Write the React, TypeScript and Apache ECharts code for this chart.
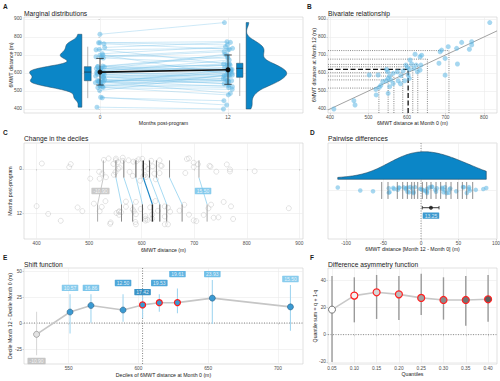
import React, { useEffect, useRef } from "react";
import * as echarts from "echarts";

const FF = "'Liberation Sans', Arial, Helvetica, sans-serif";

// Paired 6MWT distances (m): Month 0 and Month 12
const month0 = [410, 462, 465, 502, 519, 520, 525, 528, 532, 537, 546, 547, 550, 551, 551, 555, 555, 558, 564, 564, 575, 577, 583, 584, 590, 594, 597, 601, 603, 606, 606, 608, 612, 618, 621, 624, 627, 634, 634, 636, 638, 683, 686, 690, 699, 699, 707, 729, 731, 742, 762, 768, 768, 815];
const month12 = [400, 446, 422, 589, 509, 478, 589, 520, 531, 552, 557, 620, 607, 570, 487, 583, 524, 561, 598, 541, 607, 557, 540, 585, 611, 557, 644, 631, 589, 620, 570, 672, 650, 626, 704, 644, 607, 616, 690, 644, 699, 654, 718, 727, 681, 588, 746, 737, 650, 770, 732, 774, 756, 880];

const monthTicks = [0, 12];
const distTicks = [400, 500, 600, 700, 800, 900];
const bivXTicks = [400, 500, 600, 700, 800];

const meanDist = [605, 618];
const sdLow = [533, 537];
const sdHigh = [681, 700];
const box0 = [460, 557, 605, 635, 746];
const box12 = [472, 576, 626, 654, 765];

const deciles0 = [527, 551, 566, 589, 603, 615, 628, 653, 709];
const decileDiff = [-10.9, 10.57, 16.86, 12.5, 17.42, 19.53, 19.61, 23.93, 15.5];
const shiftLower = [-31, -10, 0.3, 1.3, 4.5, 10.9, 9.3, -1, -7.4];
const shiftUpper = [10.9, 27.6, 27.6, 27.6, 25.3, 27.6, 33.3, 41.3, 36.5];
const shiftLabelY = [-36.5, 33.7, 33.7, 38.5, 29.8, 38.5, 47.1, 47.1, 42.3];
const shiftTicksX = [550, 600, 650, 700];
const shiftTicksY = [-25, 0, 25, 50];

const diffQuantiles = [-52.4, -44, -31.6, -24.4, -18.2, -12.4, -8.9, -4.4, 1.8, 7.6, 13.3, 20, 26.2, 33.3, 40, 48.9, 55.1, 60.9, 68.9];
const diffMean = 13.25;
const diffCI = [1.7, 24];
const diffTicks = [-100, -50, 0, 50, 100];

const quantiles = [0.05, 0.1, 0.15, 0.2, 0.25, 0.3, 0.35, 0.4];
const asymValues = [18.3, 28.6, 31.0, 29.5, 26.9, 25.4, 25.4, 25.9];
const asymLower = [-20, 9, 11.5, 10.8, 14.4, 11, 6.6, 9.5];
const asymUpper = [43, 42, 43.7, 43, 44.5, 42, 43, 43.7];
const asymTicksY = [-20, 0, 20, 40];

const BLUE = "#0b86c7";
const PT = "#5cb6e4";

const jit = (i: number, k: number) => {
  const s = Math.sin(i * 12.9898 + k * 78.233) * 43758.5453;
  return s - Math.floor(s) - 0.5;
};

function kde(values: number[], bw: number, lo: number, hi: number, n = 120) {
  const out: number[][] = [];
  for (let k = 0; k <= n; k++) {
    const x = lo + ((hi - lo) * k) / n;
    let s = 0;
    for (const v of values) {
      const z = (x - v) / bw;
      s += Math.exp(-0.5 * z * z);
    }
    out.push([x, s]);
  }
  const mx = Math.max(...out.map((o) => o[1]));
  return out.map(([x, s]) => [x, s / mx]);
}

type Seg = { p: number[][]; c: string; w: number; d?: number[] };
function segSeries(gi: number, segs: Seg[], z = 3) {
  return {
    type: "custom",
    xAxisIndex: gi,
    yAxisIndex: gi,
    z,
    silent: true,
    clip: true,
    data: segs.map((s, i) => [s.p[0][0], s.p[0][1], i]),
    encode: { x: 0, y: 1 },
    renderItem: (_p: any, api: any) => {
      const s = segs[api.value(2)];
      return {
        type: "polyline",
        shape: { points: s.p.map((q) => api.coord(q)) },
        style: { stroke: s.c, lineWidth: s.w, lineDash: s.d || null, fill: null },
      };
    },
  };
}

type Poly = { pts: number[][]; fill: string; stroke: string; w: number };
function polySeries(gi: number, polys: Poly[], z = 3) {
  return {
    type: "custom",
    xAxisIndex: gi,
    yAxisIndex: gi,
    z,
    silent: true,
    clip: true,
    data: polys.map((s, i) => [s.pts[0][0], s.pts[0][1], i]),
    encode: { x: 0, y: 1 },
    renderItem: (_p: any, api: any) => {
      const s = polys[api.value(2)];
      return {
        type: "polygon",
        shape: { points: s.pts.map((q) => api.coord(q)) },
        style: { fill: s.fill, stroke: s.stroke, lineWidth: s.w },
      };
    },
  };
}

function labelSeries(gi: number, items: { x: number; y: number; text: string; bg: string }[], z = 20) {
  return {
    type: "scatter",
    xAxisIndex: gi,
    yAxisIndex: gi,
    z,
    silent: true,
    symbolSize: 0.1,
    itemStyle: { color: "rgba(0,0,0,0)" },
    data: items.map((it) => ({ value: [it.x, it.y], name: it.text, label: { backgroundColor: it.bg } })),
    label: {
      show: true,
      position: "inside",
      formatter: (p: any) => p.name,
      color: "#ffffff",
      fontSize: 5,
      fontFamily: FF,
      lineHeight: 5.5,
      padding: [0.5, 2, 0.3, 2],
      borderRadius: 0.6,
    },
  };
}

function valAxis(gi: number, min: number, max: number, ticks: number[], o: any = {}) {
  return {
    type: "value",
    gridIndex: gi,
    min,
    max,
    inverse: !!o.inverse,
    name: o.name || "",
    nameLocation: "middle",
    nameGap: o.nameGap ?? 8,
    nameMoveOverlap: false,
    nameTextStyle: { fontSize: 5.2, color: "#1a1a1a", fontFamily: FF, fontWeight: "normal" },
    axisLine: { show: false },
    axisTick: { show: !o.noLabels, length: 1.6, lineStyle: { color: "#b3b3b3", width: 0.5 }, customValues: ticks },
    axisLabel: {
      show: !o.noLabels,
      customValues: ticks,
      fontSize: 4.8,
      color: "#4d4d4d",
      margin: o.margin ?? 2,
      fontFamily: FF,
      ...(o.fmt ? { formatter: o.fmt } : {}),
    },
    splitLine: { show: true, lineStyle: { color: "#ebebeb", width: 0.6 } },
  };
}

function buildOption() {
  const diffs = month0.map((v, i) => month12[i] - v);
  const deciles12 = deciles0.map((v, i) => v + decileDiff[i]);

  // ---------- Panel A ----------
  const x0 = month0.map((_, i) => jit(i, 1) * 0.9);
  const x12 = month12.map((_, i) => 12 + jit(i, 2) * 0.9);
  const pairSegs: Seg[] = month0.map((v, i) => ({
    p: [[x0[i], v], [x12[i], month12[i]]],
    c: "rgba(100,185,230,0.45)",
    w: 0.7,
  }));
  const lo0 = Math.min(...month0), hi0 = Math.max(...month0);
  const lo12 = Math.min(...month12), hi12 = Math.max(...month12);
  const k0 = kde(month0, 20, lo0, hi0);
  const k12 = kde(month12, 23, lo12, hi12);
  const base0 = -1.7, w0 = 4.9, base12 = 13.7, w12 = 3.8;
  const violins: Poly[] = [
    { pts: [[base0, lo0], ...k0.map(([y, d]) => [base0 - d * w0, y]), [base0, hi0]], fill: BLUE, stroke: "#22465e", w: 0.5 },
    { pts: [[base12, lo12], ...k12.map(([y, d]) => [base12 + d * w12, y]), [base12, hi12]], fill: BLUE, stroke: "#22465e", w: 0.5 },
  ];
  const boxDefs = [
    { c: -1.15, hw: 0.32, b: box0 },
    { c: 13.1, hw: 0.3, b: box12 },
  ];
  const boxPolys: Poly[] = boxDefs.map(({ c, hw, b }) => ({
    pts: [[c - hw, b[1]], [c + hw, b[1]], [c + hw, b[3]], [c - hw, b[3]]],
    fill: BLUE,
    stroke: "#2b4a5e",
    w: 0.5,
  }));
  const boxSegs: Seg[] = [];
  boxDefs.forEach(({ c, hw, b }) => {
    boxSegs.push({ p: [[c, b[0]], [c, b[1]]], c: "#9a9a9a", w: 0.7 });
    boxSegs.push({ p: [[c, b[3]], [c, b[4]]], c: "#9a9a9a", w: 0.7 });
    boxSegs.push({ p: [[c - hw, b[2]], [c + hw, b[2]]], c: "#1f3a4d", w: 0.8 });
  });
  const meanSegs: Seg[] = [];
  monthTicks.forEach((m, i) => {
    meanSegs.push({ p: [[m, sdLow[i]], [m, sdHigh[i]]], c: "#222", w: 0.8 });
    meanSegs.push({ p: [[m - 0.35, sdLow[i]], [m + 0.35, sdLow[i]]], c: "#222", w: 0.8 });
    meanSegs.push({ p: [[m - 0.35, sdHigh[i]], [m + 0.35, sdHigh[i]]], c: "#222", w: 0.8 });
  });

  // ---------- Panel B ----------
  const bXmin = 394.8, bXmax = 833.8, yMin = 377.7, yMax = 911;
  const bSegs: Seg[] = [];
  deciles0.forEach((d, i) => {
    const med = i === 4;
    const st = med ? { c: "#111", w: 1.3, d: [5, 2.5] } : { c: "#555", w: 0.7, d: [1, 1.2] };
    bSegs.push({ p: [[d, yMin], [d, deciles12[i]]], ...st });
    bSegs.push({ p: [[bXmin, deciles12[i]], [d, deciles12[i]]], ...st });
  });

  // ---------- Panel C ----------
  const cPts = [
    ...month0.map((v, i) => [v, jit(i, 3) * 6.5]),
    ...month12.map((v, i) => [v, 12 + jit(i, 4) * 6.5]),
  ];
  const greyShades = ["#a8a8a8", "#8a8a8a", "#7a7a7a", "#5a5a5a", "#2a2a2a", "#5a5a5a", "#7a7a7a", "#8a8a8a", "#a8a8a8"];
  const cSegs: Seg[] = [];
  deciles0.forEach((d, i) => {
    const med = i === 4;
    const connC = decileDiff[i] < 0 ? "#bdbdbd" : med ? "#1a84c4" : "#8fd0ef";
    cSegs.push({ p: [[d, 2.35], [deciles12[i], 12 - 2.35]], c: connC, w: med ? 1.2 : 0.8 });
  });
  deciles0.forEach((d, i) => {
    const med = i === 4;
    cSegs.push({ p: [[d, -2.35], [d, 2.35]], c: greyShades[i], w: med ? 1.4 : 1 });
    cSegs.push({ p: [[deciles12[i], 12 - 2.35], [deciles12[i], 12 + 2.35]], c: greyShades[i], w: med ? 1.4 : 1 });
  });
  const cLabels = [0, 8].map((i) => ({
    x: (deciles0[i] + deciles12[i]) / 2,
    y: 6,
    text: decileDiff[i].toFixed(2),
    bg: decileDiff[i] < 0 ? "#bdbdbd" : "#6cbfe9",
  }));

  // ---------- Panel D ----------
  const dLo = Math.min(...diffs), dHi = Math.max(...diffs);
  const kd = kde(diffs, 27, dLo, dHi);
  const dBase = 0.622, dH = 0.287;
  const dPoly: Poly[] = [
    { pts: [[dLo, dBase], ...kd.map(([x, d]) => [x, dBase + d * dH]), [dHi, dBase]], fill: BLUE, stroke: "#22465e", w: 0.6 },
  ];
  const dPts = diffs.map((v, i) => [v, 0.51 + jit(i, 5) * 0.07]);
  const dSegs: Seg[] = diffQuantiles.map((q) => ({ p: [[q, 0.417], [q, 0.594]], c: "#707070", w: 0.8 }));
  dSegs.push({ p: [[diffCI[0], 0.326], [diffCI[1], 0.326]], c: "#222", w: 0.9 });
  dSegs.push({ p: [[diffCI[0], 0.308], [diffCI[0], 0.344]], c: "#222", w: 0.8 });
  dSegs.push({ p: [[diffCI[1], 0.308], [diffCI[1], 0.344]], c: "#222", w: 0.8 });
  const dZero: Seg[] = [{ p: [[0, 0], [0, 1]], c: "#777", w: 0.8, d: [1, 1.5] }];

  // ---------- Panel E ----------
  const eXmin = 518, eXmax = 718, eYmin = -39.4, eYmax = 52.9;
  const eRef: Seg[] = [
    { p: [[eXmin, 0], [eXmax, 0]], c: "#666", w: 0.8, d: [1, 1.5] },
    { p: [[deciles0[4], eYmin], [deciles0[4], eYmax]], c: "#666", w: 0.8, d: [1, 1.5] },
  ];
  const eBars: Seg[] = deciles0.map((d, i) => ({
    p: [[d, shiftLower[i]], [d, shiftUpper[i]]],
    c: decileDiff[i] < 0 ? "#dadada" : "#a3d6f0",
    w: 1.1,
  }));
  const labelBg = ["#b8b8b8", "#6cbfe9", "#5db8e6", "#2391d0", "#0a78b8", "#2391d0", "#3ba3dc", "#4fb0e2", "#6cbfe9"];
  const eLabels = deciles0.map((d, i) => ({ x: d, y: shiftLabelY[i], text: decileDiff[i].toFixed(2), bg: labelBg[i] }));
  const eData = deciles0.map((d, i) => ({
    value: [d, decileDiff[i]],
    itemStyle:
      decileDiff[i] < 0
        ? { color: "#e3e3e3", borderColor: "#8c8c8c", borderWidth: 0.7 }
        : i >= 4 && i <= 6
        ? { color: "#3a9ad3", borderColor: "#ff1a1a", borderWidth: 1.2 }
        : { color: "#3a9ad3", borderColor: "#2a5d80", borderWidth: 0.6 },
  }));

  // ---------- Panel F ----------
  const fFill = ["#ffffff", "#f2f2f2", "#d6d6d6", "#bdbdbd", "#a3a3a3", "#8a8a8a", "#737373", "#5e5e5e"];
  const fBars: Seg[] = quantiles.map((q, i) => ({ p: [[q, asymLower[i]], [q, asymUpper[i]]], c: "#9a9a9a", w: 1.4 }));
  fBars.unshift({ p: [[0.041, 0], [0.42, 0]], c: "#777", w: 0.8, d: [1, 1.5] });
  const fData = quantiles.map((q, i) => ({
    value: [q, asymValues[i]],
    itemStyle:
      i === 0
        ? { color: fFill[i], borderColor: "#555", borderWidth: 0.8 }
        : { color: fFill[i], borderColor: "#ff2020", borderWidth: 1.2 },
  }));

  const txt = (x: number, y: number, text: string, size: number, weight = "normal") => ({
    type: "text",
    x,
    y,
    silent: true,
    style: { text, fontSize: size, fontWeight: weight, fill: "#1a1a1a", fontFamily: FF, verticalAlign: "middle", align: "left" },
  });

  const grids = [
    { left: 24, top: 17, width: 279, height: 96 },
    { left: 328, top: 17, width: 169, height: 96 },
    { left: 24, top: 143, width: 279, height: 96 },
    { left: 328, top: 143, width: 169, height: 96 },
    { left: 24, top: 268, width: 279, height: 96 },
    { left: 328, top: 268, width: 169, height: 96 },
  ].map((g) => ({
    ...g,
    show: true,
    containLabel: false,
    outerBoundsMode: "none",
    borderColor: "#cdcdcd",
    borderWidth: 0.6,
    backgroundColor: "rgba(0,0,0,0)",
  }));

  return {
    animation: false,
    backgroundColor: "#ffffff",
    textStyle: { fontFamily: FF },
    grid: grids,
    xAxis: [
      valAxis(0, -7.125, 19.03, monthTicks, { name: "Months post-program", nameGap: 7, margin: 1.5 }),
      valAxis(1, bXmin, bXmax, bivXTicks, { name: "6MWT distance at Month 0 (m)", nameGap: 7, margin: 1.5 }),
      valAxis(2, 376, 907, distTicks, { name: "6MWT distance (m)", nameGap: 8, margin: 1.5 }),
      valAxis(3, -124, 101.3, diffTicks, { name: "6MWT distance [Month 12 - Month 0] (m)", nameGap: 7, margin: 1.5 }),
      valAxis(4, eXmin, eXmax, shiftTicksX, { name: "Deciles of 6MWT distance at Month 0 (m)", nameGap: 8, margin: 1.5 }),
      valAxis(5, 0.041, 0.42, quantiles, { name: "Quantiles", nameGap: 7.5, margin: 1.5, fmt: (v: number) => v.toFixed(2) }),
    ],
    yAxis: [
      valAxis(0, yMin, yMax, distTicks, { name: "6MWT distance (m)", nameGap: 10.6 }),
      valAxis(1, yMin, yMax, distTicks, { name: "6MWT distance at Month 12 (m)", nameGap: 11.6 }),
      valAxis(2, -7.09, 19.09, monthTicks, { name: "Months post-program", nameGap: 11.4, inverse: true }),
      valAxis(3, 0, 1, [0.51], { noLabels: true }),
      valAxis(4, eYmin, eYmax, shiftTicksY, { name: "Decile Month 12 - Decile Month 0 (m)", nameGap: 11.4 }),
      valAxis(5, -21.5, 48.8, asymTicksY, { name: "Quantile sum = q + 1-q", nameGap: 10.4 }),
    ],
    graphic: [
      txt(3, 6, "A", 6.5, "bold"),
      txt(307, 6, "B", 6.5, "bold"),
      txt(3, 132, "C", 6.5, "bold"),
      txt(310, 132, "D", 6.5, "bold"),
      txt(3, 257, "E", 6.5, "bold"),
      txt(310, 257, "F", 6.5, "bold"),
      txt(24, 13, "Marginal distributions", 6.7),
      txt(328, 13, "Bivariate relationship", 6.7),
      txt(24, 138.5, "Change in the deciles", 6.7),
      txt(328, 138.5, "Pairwise differences", 6.7),
      txt(24, 264, "Shift function", 6.7),
      txt(328, 264, "Difference asymmetry function", 6.7),
    ],
    series: [
      // A
      segSeries(0, pairSegs, 2),
      {
        type: "scatter", xAxisIndex: 0, yAxisIndex: 0, z: 3, silent: true, symbolSize: 5,
        itemStyle: { color: PT, opacity: 0.5 },
        data: month0.map((v, i) => [x0[i], v]),
      },
      {
        type: "scatter", xAxisIndex: 0, yAxisIndex: 0, z: 3, silent: true, symbolSize: 5,
        itemStyle: { color: PT, opacity: 0.5 },
        data: month12.map((v, i) => [x12[i], v]),
      },
      polySeries(0, violins, 4),
      segSeries(0, boxSegs, 4),
      polySeries(0, boxPolys, 5),
      segSeries(0, [boxSegs[2], boxSegs[5]], 6),
      segSeries(0, meanSegs, 7),
      {
        type: "line", xAxisIndex: 0, yAxisIndex: 0, z: 8, silent: true,
        data: monthTicks.map((m, i) => [m, meanDist[i]]),
        symbol: "circle", symbolSize: 5, showSymbol: true,
        lineStyle: { color: "#111", width: 1.6 }, itemStyle: { color: "#111" },
      },
      // B
      segSeries(1, bSegs, 3),
      segSeries(1, [{ p: [[bXmin, bXmin], [bXmax, bXmax]], c: "#8a8a8a", w: 0.8 }], 3),
      {
        type: "scatter", xAxisIndex: 1, yAxisIndex: 1, z: 4, silent: true, symbolSize: 5,
        itemStyle: { color: PT, opacity: 0.55 },
        data: month0.map((v, i) => [v, month12[i]]),
      },
      // C
      {
        type: "scatter", xAxisIndex: 2, yAxisIndex: 2, z: 3, silent: true, symbolSize: 5,
        itemStyle: { color: "rgba(0,0,0,0)", borderColor: "#c4c4c4", borderWidth: 0.6 },
        data: cPts,
      },
      segSeries(2, cSegs, 4),
      labelSeries(2, cLabels),
      // D
      segSeries(3, dZero, 2),
      polySeries(3, dPoly, 3),
      {
        type: "scatter", xAxisIndex: 3, yAxisIndex: 3, z: 4, silent: true, symbolSize: 4.5,
        itemStyle: { color: PT, opacity: 0.55 },
        data: dPts,
      },
      segSeries(3, dSegs, 5),
      {
        type: "scatter", xAxisIndex: 3, yAxisIndex: 3, z: 6, silent: true, symbolSize: 4,
        itemStyle: { color: "#111" },
        data: [[diffMean, 0.326]],
      },
      labelSeries(3, [{ x: diffMean, y: 0.243, text: diffMean.toFixed(2), bg: "#0d80c2" }]),
      // E
      segSeries(4, eRef, 2),
      segSeries(4, eBars, 3),
      {
        type: "line", xAxisIndex: 4, yAxisIndex: 4, z: 4, silent: true,
        data: eData, symbol: "circle", symbolSize: 6, showSymbol: true,
        lineStyle: { color: "#c6c6c6", width: 1.6 },
      },
      labelSeries(4, eLabels),
      // F
      segSeries(5, fBars, 3),
      {
        type: "line", xAxisIndex: 5, yAxisIndex: 5, z: 4, silent: true,
        data: fData, symbol: "circle", symbolSize: 7, showSymbol: true,
        lineStyle: { color: "#c8c8c8", width: 1.6 },
      },
    ],
  };
}

export default function App() {
  const ref = useRef<HTMLDivElement>(null);
  useEffect(() => {
    document.body.style.margin = "0";
    const chart = echarts.init(ref.current as HTMLDivElement, undefined, { renderer: "svg", width: 500, height: 381 });
    chart.setOption(buildOption() as any);
    return () => chart.dispose();
  }, []);
  return <div ref={ref} style={{ width: 500, height: 381, background: "#fff" }} />;
}
